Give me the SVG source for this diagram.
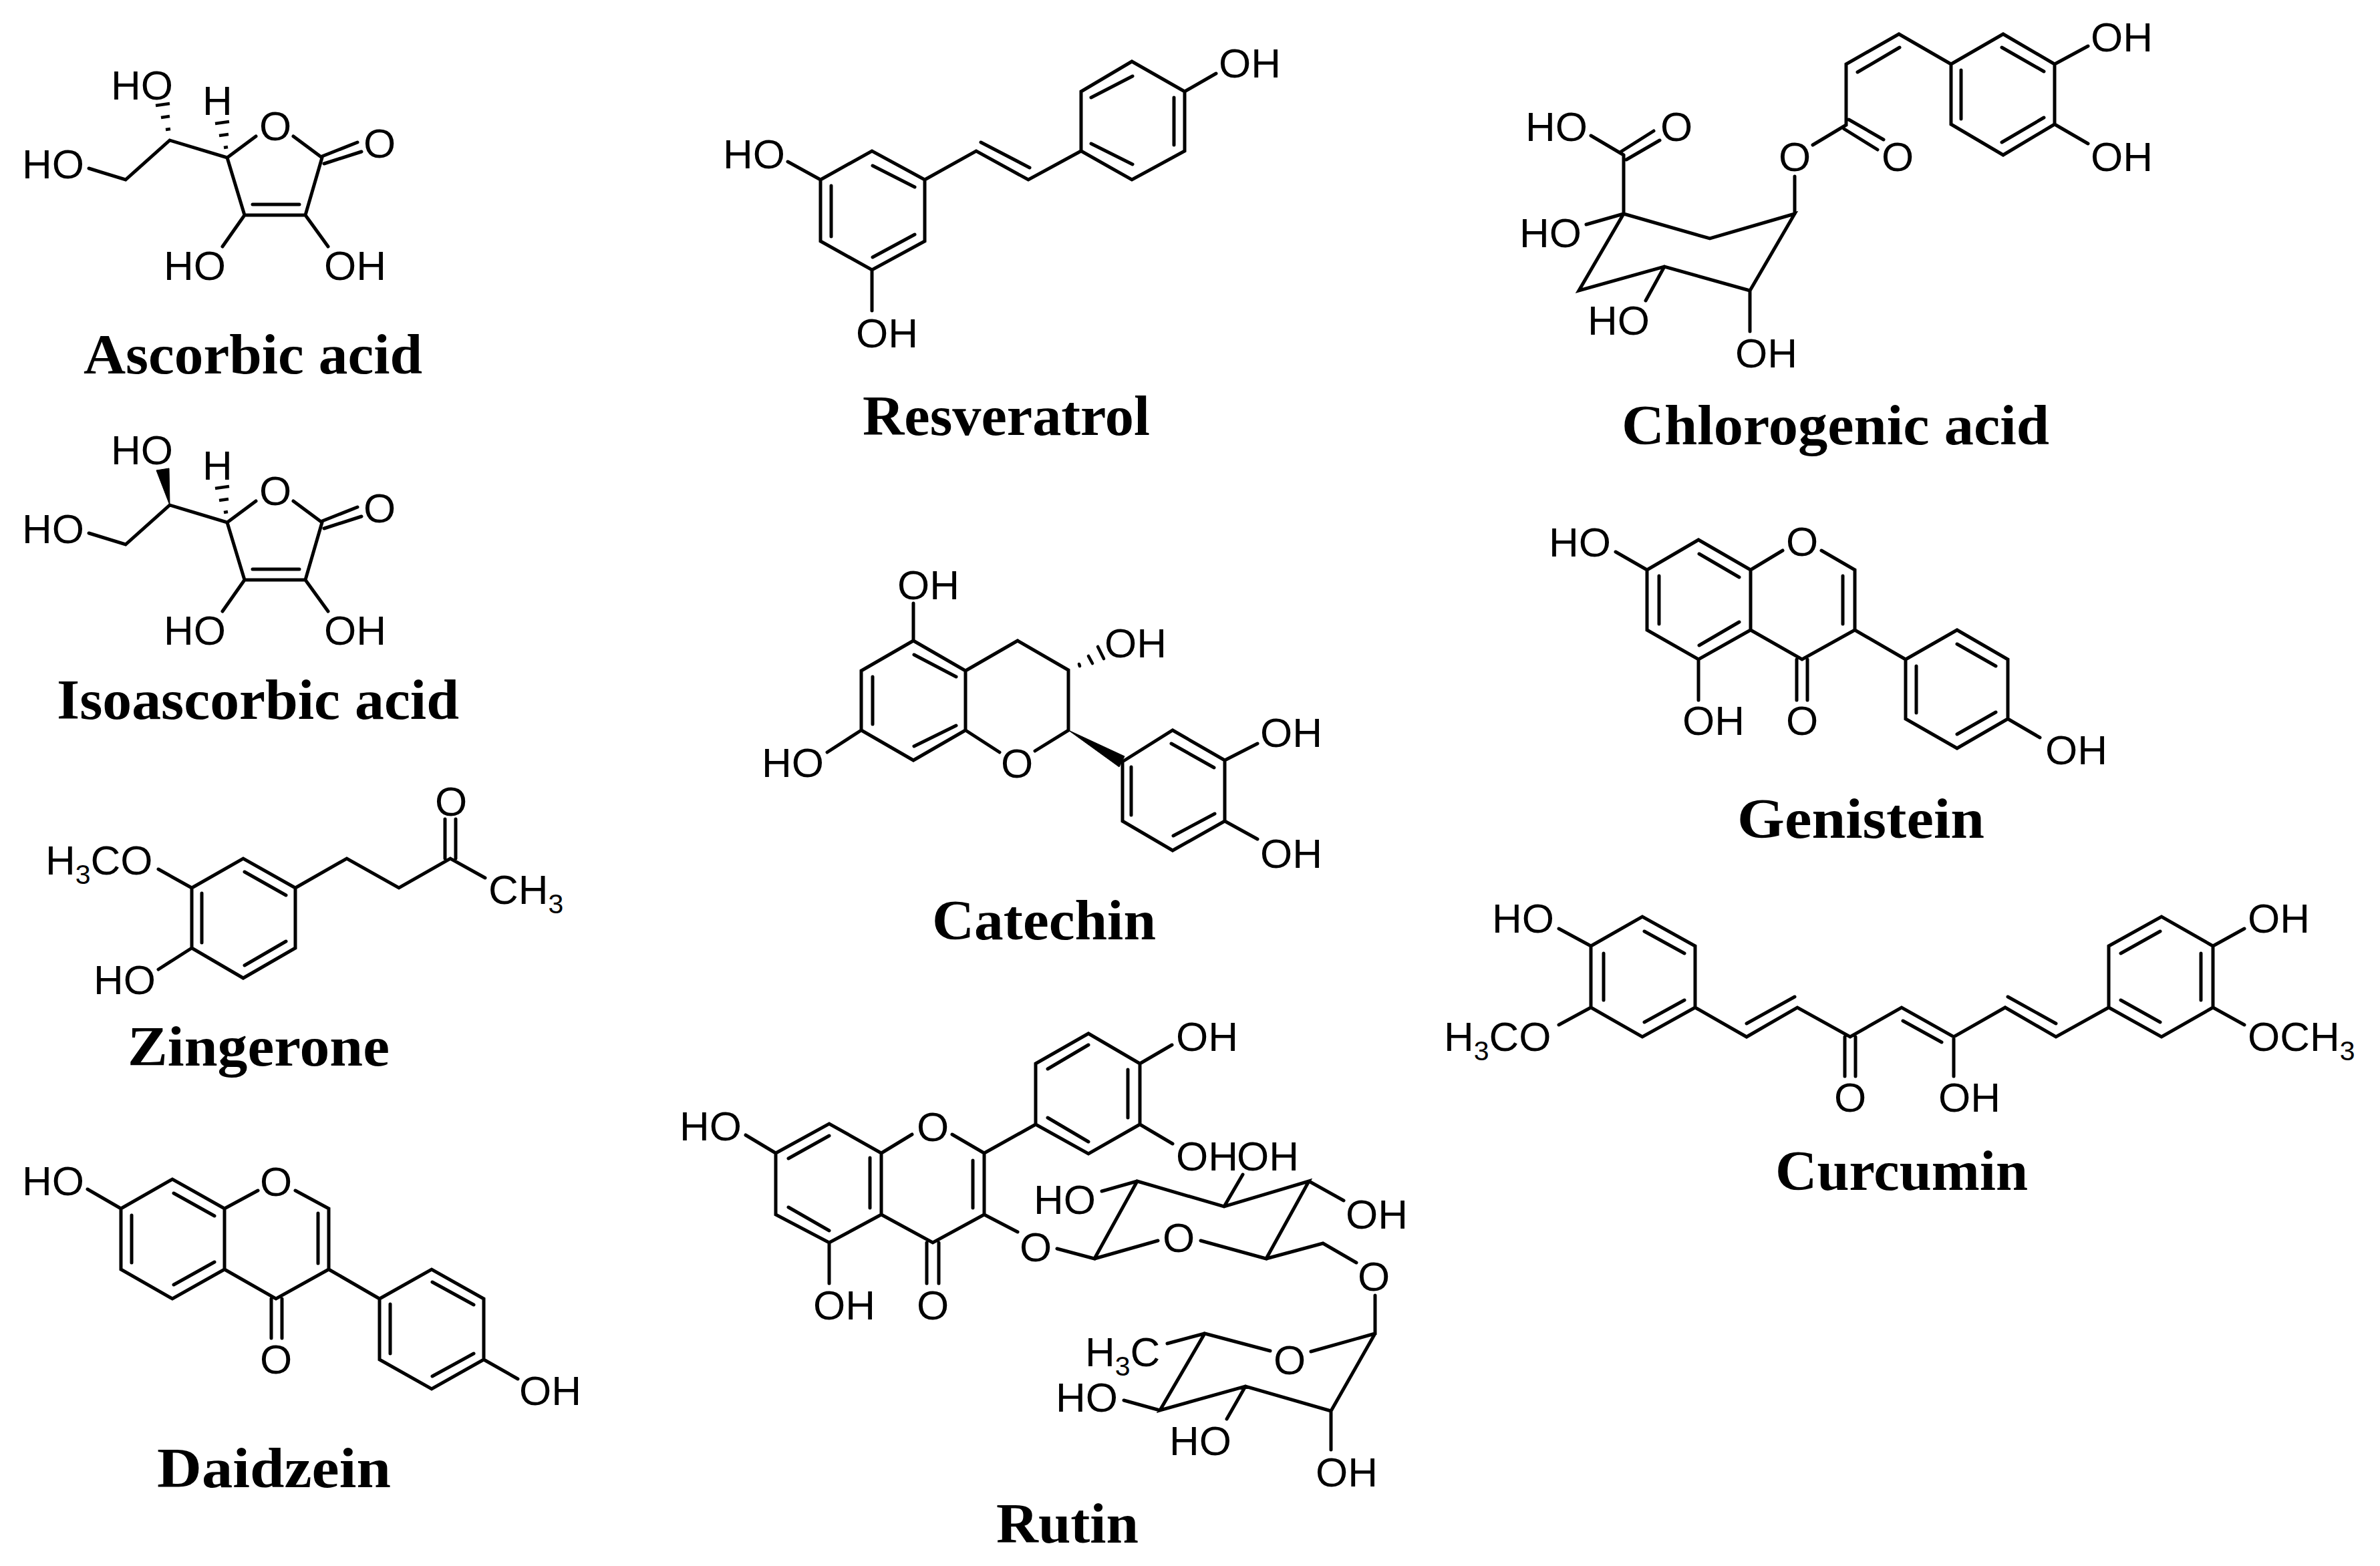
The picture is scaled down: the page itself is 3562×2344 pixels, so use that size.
<svg xmlns="http://www.w3.org/2000/svg" width="3562" height="2344" viewBox="0 0 3562 2344">
<style>
.b{fill:none;stroke:#000;stroke-width:5;stroke-linecap:round;stroke-linejoin:miter}
.h{fill:none;stroke:#000;stroke-width:4.6}
.w{fill:#000;stroke:#000;stroke-width:1}
.a{font-family:"Liberation Sans",Arial,sans-serif;font-size:62px;fill:#000}
.m{text-anchor:middle}
.s{font-size:41px}
.n{font-family:"Liberation Serif","Times New Roman",serif;font-weight:bold;font-size:84px;fill:#000}
</style>
<rect width="3562" height="2344" fill="#fff"/>
<defs>
<g id="asc-core">
<path class="b" d="M133 252L188 269L254 210L340 236L383 204M439 204L482 236L457 322L366 322L340 236M378 306L448 306M482 234L535 213M485 245L541 227M366 322L333 369M457 322L491 369"/>
<path class="h" d="M335 221L341 220M328 203L342 201M322 185L343 182"/>
<text class="a" x="303" y="172">H</text>
<text class="a" x="33" y="267">HO</text>
<text class="a m" x="412" y="210">O</text>
<text class="a m" x="568" y="236">O</text>
<text class="a" x="245" y="419">HO</text>
<text class="a" x="485" y="419">OH</text>
<text class="a" x="166" y="149">HO</text>
</g>
</defs>
<g id="ascorbic-acid">
<use href="#asc-core"/>
<path class="h" d="M248 194L255 193M241 176L254 174M233 158L254 155"/>
<text class="n" x="125" y="559" textLength="507" lengthAdjust="spacingAndGlyphs">Ascorbic acid</text>
</g>
<g id="isoascorbic-acid">
<use href="#asc-core" y="546"/>
<polygon class="w" points="254,756 234,704 253,701"/>
<text class="n" x="85" y="1076" textLength="602" lengthAdjust="spacingAndGlyphs">Isoascorbic acid</text>
</g>
<g id="zingerone">
<path class="b" d="M287 1329L364 1285L442 1329L442 1419L364 1464L287 1419ZM302 1337L302 1411M366 1305L428 1340M366 1445L428 1409M442 1329L519 1285L597 1329L674 1285L726 1314M666 1285L666 1226M682 1285L682 1226M237 1301L287 1329M237 1451L287 1419"/>
<text class="a m" x="675" y="1221">O</text>
<text class="a" x="731" y="1353">CH<tspan class="s" dy="14">3</tspan></text>
<text class="a" x="68" y="1309">H<tspan class="s" dy="14">3</tspan><tspan dy="-14">CO</tspan></text>
<text class="a" x="140" y="1488">HO</text>
<text class="n" x="191" y="1595" textLength="392" lengthAdjust="spacingAndGlyphs">Zingerone</text>
</g>
<g id="daidzein">
<path class="b" d="M181 1809L258 1765L336 1809L336 1900L258 1944L181 1900ZM197 1819L197 1890M260 1786L321 1820M260 1923L321 1889M336 1809L386 1782M442 1782L492 1809L492 1900L413 1944L336 1900M476 1816L476 1891M406 1944L406 2003M422 1944L422 2003M492 1900L568 1944M568 1944L646 1900L724 1944L724 2035L646 2079L568 2035ZM584 1952L584 2026M647 1919L709 1953M647 2060L709 2026M724 2035L775 2064M131 1780L181 1809"/>
<text class="a" x="33" y="1789">HO</text>
<text class="a m" x="413" y="1790">O</text>
<text class="a m" x="413" y="2056">O</text>
<text class="a" x="777" y="2103">OH</text>
<text class="n" x="235" y="2226" textLength="350" lengthAdjust="spacingAndGlyphs">Daidzein</text>
</g>
<g id="resveratrol">
<path class="b" d="M1228 269L1305 226L1384 269L1384 361L1305 404L1228 361ZM1244 278L1244 354M1306 248L1369 280M1306 385L1369 351M1179 242L1228 269M1305 404L1305 465M1384 269L1461 226L1539 269L1618 226M1468 213L1541 251M1618 226L1618 137L1694 92L1773 137L1773 226L1694 269ZM1695 114L1633 146M1757 146L1757 217M1695 246L1633 215M1773 137L1820 110"/>
<text class="a" x="1082" y="252">HO</text>
<text class="a" x="1281" y="520">OH</text>
<text class="a" x="1824" y="116">OH</text>
<text class="n" x="1291" y="651" textLength="430" lengthAdjust="spacingAndGlyphs">Resveratrol</text>
</g>
<g id="catechin">
<path class="b" d="M1289 1004L1367 959L1445 1004L1445 1093L1367 1138L1289 1093ZM1306 1013L1306 1084M1368 980L1431 1013M1368 1117L1431 1086M1367 903L1367 959M1238 1126L1289 1093M1445 1004L1523 959L1599 1003L1599 1093L1549 1124M1496 1126L1445 1093M1680 1140L1755 1093L1833 1138L1833 1229L1755 1273L1680 1229ZM1693 1148L1693 1220M1753 1113L1817 1149M1756 1251L1818 1218M1833 1138L1882 1113M1833 1229L1882 1256"/>
<path class="h" stroke-linecap="round" d="M1615 994L1616 997M1629 982L1635 993M1643 968L1652 986"/>
<polygon class="w" points="1599,1093 1675,1148 1683,1132"/>
<text class="a" x="1343" y="897">OH</text>
<text class="a" x="1140" y="1163">HO</text>
<text class="a m" x="1522" y="1164">O</text>
<text class="a" x="1653" y="984">OH</text>
<text class="a" x="1886" y="1118">OH</text>
<text class="a" x="1886" y="1299">OH</text>
<text class="n" x="1395" y="1406" textLength="335" lengthAdjust="spacingAndGlyphs">Catechin</text>
</g>
<g id="rutin">
<path class="b" d="M1161 1726L1241 1682L1319 1726L1319 1818L1241 1860L1161 1818ZM1180 1734L1241 1700M1302 1733L1302 1808M1180 1807L1241 1842M1116 1699L1161 1726M1241 1860L1241 1921M1319 1726L1365 1698M1425 1698L1473 1726L1473 1818L1396 1860L1319 1818M1456 1737L1456 1808M1387 1860L1387 1921M1405 1860L1405 1921M1473 1726L1550 1683M1550 1683L1550 1592L1629 1547L1706 1592L1706 1683L1629 1727ZM1568 1600L1629 1564M1688 1601L1688 1673M1568 1673L1629 1709M1706 1592L1754 1564M1706 1683L1755 1712M1473 1818L1523 1844M1582 1869L1638 1884L1702 1768L1832 1806L1959 1768L1895 1884L1797 1857M1733 1857L1638 1884M1895 1884L1980 1861L2030 1890M1702 1768L1649 1783M1832 1806L1860 1758M1959 1768L2011 1797M2058 1939L2058 1996L1962 2023M1901 2022L1803 1996L1736 2111L1864 2075L1992 2112L2058 1996M1747 2011L1803 1996M1682 2096L1736 2111M1864 2075L1836 2124M1992 2112L1992 2170"/>
<text class="a" x="1017" y="1707">HO</text>
<text class="a" x="1217" y="1975">OH</text>
<text class="a m" x="1396" y="1708">O</text>
<text class="a m" x="1396" y="1975">O</text>
<text class="a" x="1760" y="1573">OH</text>
<text class="a" x="1760" y="1752">OH</text>
<text class="a" x="1851" y="1752">OH</text>
<text class="a" x="1547" y="1817">HO</text>
<text class="a" x="2014" y="1839">OH</text>
<text class="a m" x="1550" y="1888">O</text>
<text class="a m" x="1764" y="1874">O</text>
<text class="a m" x="2056" y="1932">O</text>
<text class="a m" x="1930" y="2057">O</text>
<text class="a" x="1624" y="2045">H<tspan class="s" dy="14">3</tspan><tspan dy="-14">C</tspan></text>
<text class="a" x="1580" y="2113">HO</text>
<text class="a" x="1750" y="2178">HO</text>
<text class="a" x="1969" y="2225">OH</text>
<text class="n" x="1491" y="2309" textLength="213" lengthAdjust="spacingAndGlyphs">Rutin</text>
</g>
<g id="chlorogenic-acid">
<path class="b" d="M2430 320L2559 357L2686 320L2619 435L2491 399L2363 435ZM2430 232L2430 320M2381 203L2430 232M2426 227L2475 196M2434 239L2484 210M2374 336L2430 320M2491 399L2463 450M2619 435L2619 496M2686 264L2686 320M2713 217L2763 187L2763 96L2842 51L2920 96M2767 179L2819 209M2760 193L2810 224M2780 108L2843 71M2920 96L2998 51L3075 96L3075 186L2998 232L2920 186ZM2996 71L3059 107M2935 105L2935 178M2996 213L3059 176M3075 96L3125 69M3075 186L3125 215"/>
<text class="a" x="2283" y="211">HO</text>
<text class="a m" x="2509" y="211">O</text>
<text class="a" x="2274" y="370">HO</text>
<text class="a" x="2376" y="501">HO</text>
<text class="a" x="2597" y="550">OH</text>
<text class="a m" x="2686" y="256">O</text>
<text class="a m" x="2840" y="256">O</text>
<text class="a" x="3129" y="77">OH</text>
<text class="a" x="3129" y="256">OH</text>
<text class="n" x="2427" y="665" textLength="640" lengthAdjust="spacingAndGlyphs">Chlorogenic acid</text>
</g>
<g id="genistein">
<path class="b" d="M2465 853L2542 808L2620 853L2620 943L2542 987L2465 943ZM2483 862L2483 934M2543 829L2603 864M2543 966L2603 931M2418 826L2465 853M2542 987L2542 1048M2620 853L2668 824M2726 824L2776 853L2776 943L2697 987L2620 943M2758 862L2758 934M2689 987L2689 1048M2705 987L2705 1048M2776 943L2852 987M2852 987L2929 943L3005 987L3005 1076L2929 1120L2852 1076ZM2868 997L2868 1067M2929 964L2987 997M2929 1099L2987 1066M3005 1076L3053 1104"/>
<text class="a" x="2318" y="833">HO</text>
<text class="a m" x="2697" y="832">O</text>
<text class="a" x="2518" y="1100">OH</text>
<text class="a m" x="2697" y="1100">O</text>
<text class="a" x="3061" y="1144">OH</text>
<text class="n" x="2600" y="1254" textLength="370" lengthAdjust="spacingAndGlyphs">Genistein</text>
</g>
<g id="curcumin">
<path class="b" d="M2381 1416L2458 1372L2537 1416L2537 1508L2458 1552L2381 1508ZM2400 1427L2400 1497M2461 1394L2521 1427M2461 1530L2521 1497M2333 1390L2381 1416M2333 1534L2381 1508M2537 1508L2614 1552L2690 1508L2769 1552L2846 1508L2924 1552L3001 1508L3077 1552L3156 1508M2614 1532L2686 1492M2848 1528L2906 1560M3005 1492L3077 1532M2761 1552L2761 1611M2777 1552L2777 1611M2924 1552L2924 1611M3156 1416L3235 1372L3312 1416L3312 1508L3235 1552L3156 1508ZM3174 1427L3233 1394M3294 1427L3294 1497M3174 1497L3233 1530M3312 1416L3359 1390M3312 1508L3359 1534"/>
<text class="a" x="2233" y="1396">HO</text>
<text class="a" x="2161" y="1573">H<tspan class="s" dy="14">3</tspan><tspan dy="-14">CO</tspan></text>
<text class="a m" x="2769" y="1664">O</text>
<text class="a" x="2901" y="1664">OH</text>
<text class="a" x="3364" y="1396">OH</text>
<text class="a" x="3364" y="1573">OCH<tspan class="s" dy="14">3</tspan></text>
<text class="n" x="2657" y="1781" textLength="378" lengthAdjust="spacingAndGlyphs">Curcumin</text>
</g>
</svg>
